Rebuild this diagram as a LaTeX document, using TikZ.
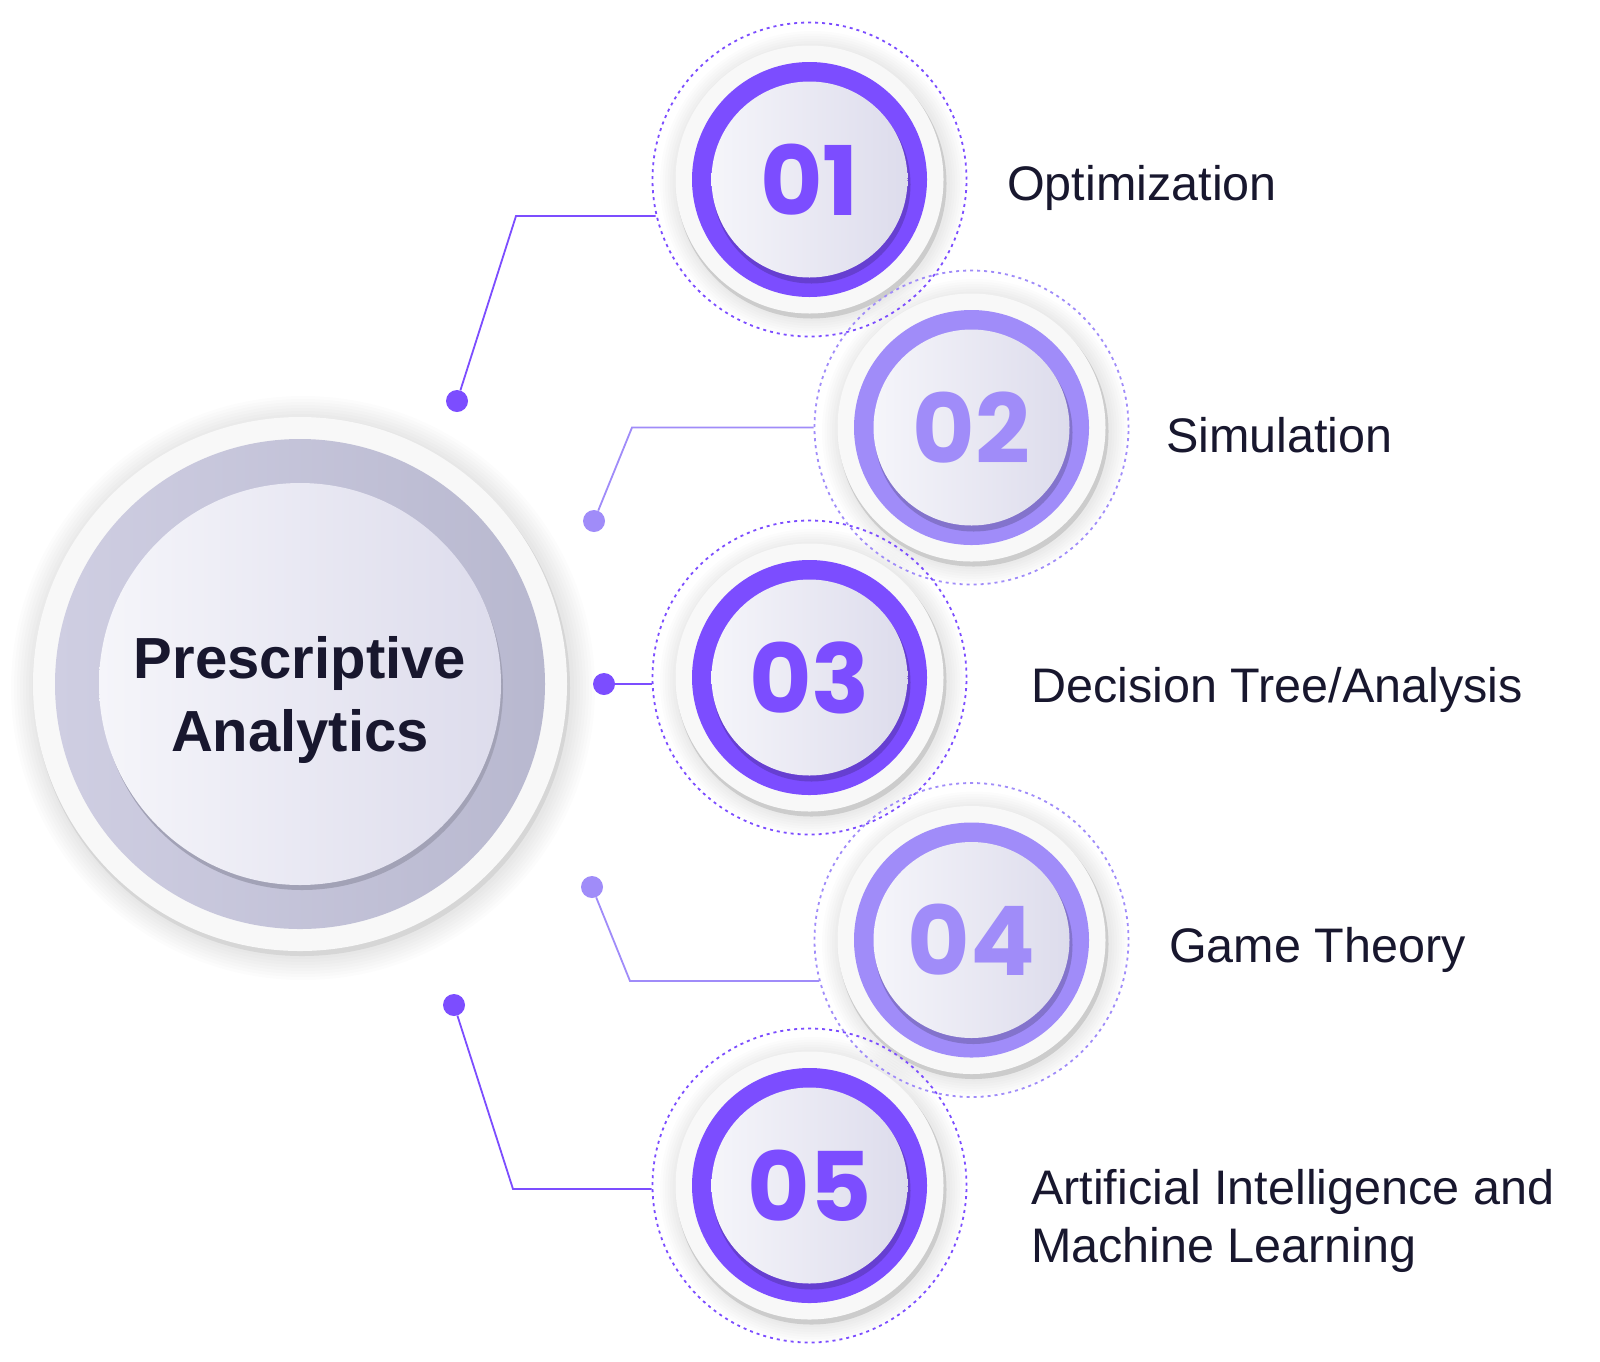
\documentclass[tikz,border=0pt]{standalone}
\usepackage{fontspec}
\setmainfont{Liberation Sans}
\newfontfamily\numfont{Poppins}
\usetikzlibrary{positioning,calc}
\definecolor{pvDeep}{RGB}{124,77,255}
\definecolor{pvSoft}{RGB}{160,140,249}
\definecolor{pvInk}{RGB}{24,23,46}
\definecolor{pvDiskL}{RGB}{245,245,250}
\definecolor{pvDiskR}{RGB}{221,220,236}
\definecolor{pvRingL}{RGB}{207,206,226}
\definecolor{pvRingR}{RGB}{184,184,207}
\definecolor{pvPaper}{RGB}{248,248,248}

\begin{document}
\begin{tikzpicture}[
    x=1pt, y=-1pt,
    every node/.style={text=pvInk},
    caption/.style={anchor=base west, inner sep=0pt, font=\fontsize{48.5}{58}\selectfont},
    orbit/.style={circle, draw=#1, line width=1.8pt, dash pattern=on 3pt off 4pt,
        minimum size=314pt, inner sep=0pt},
    wire/.style={draw=#1, line width=1.8pt},
    dotend/.style={circle, fill=#1, minimum size=22pt, inner sep=0pt},
    badge/.style={inner sep=0pt, text=#1, font=\numfont\bfseries\fontsize{96}{96}\selectfont}
]
\useasboundingbox (0,0) rectangle (1600,1361);
\fill[white] (0,0) rectangle (1600,1361);

% central hub
\foreach \k in {1,...,8}
    \fill[black, opacity=0.012] (303,688) circle ({268+3*\k});
\fill[black!16] (302,688) circle (268);
\fill[pvPaper] (300,684) circle (267);
\shade[left color=pvRingL, right color=pvRingR] (300,684) circle (245);
\fill[pvRingR!88!black] (302,689) circle (201);
\shade[left color=pvDiskL, right color=pvDiskR] (300,684) circle (201);
\node[align=center, font=\bfseries\fontsize{58}{73}\selectfont] (hub) at (300,700) {Prescriptive\\Analytics};

% numbered circles
\foreach \n/\cx/\cy/\tone in {1/809.5/179.5/pvDeep, 2/971.5/427.5/pvSoft, 3/809.5/677.5/pvDeep,
                              4/971.5/940/pvSoft, 5/809.5/1185.5/pvDeep}{
    \foreach \k in {1,...,7}
        \fill[black, opacity=0.012] (\cx+3,\cy+4) circle ({135+2.5*\k});
    \fill[black!20] (\cx+2,\cy+4) circle (135);
    \fill[pvPaper] (\cx,\cy) circle (134);
    \fill[\tone] (\cx,\cy) circle (117.5);
    \fill[\tone!82!black] (\cx+2,\cy+5) circle (99);
    \shade[left color=pvDiskL, right color=pvDiskR] (\cx,\cy) circle (98);
    \node[badge=\tone] (n\n) at (\cx,\cy) {0\n};
}
\foreach \n/\cx/\cy/\tone in {1/809.5/179.5/pvDeep, 2/971.5/427.5/pvSoft, 3/809.5/677.5/pvDeep,
                              4/971.5/940/pvSoft, 5/809.5/1185.5/pvDeep}
    \node[orbit=\tone] (c\n) at (\cx,\cy) {};

% connectors
\node[dotend=pvDeep] (d1) at (457,401) {};
\node[dotend=pvSoft] (d2) at (594,521) {};
\node[dotend=pvDeep] (d3) at (604,684) {};
\node[dotend=pvSoft] (d4) at (592,887) {};
\node[dotend=pvDeep] (d5) at (454,1005) {};
\coordinate (k1) at (516,216);
\coordinate (k2) at (632,427.5);
\coordinate (k4) at (630,981);
\coordinate (k5) at (513,1189);

\draw[wire=pvDeep] (d1) -- (k1) -- (k1 -| c1.193);
\draw[wire=pvSoft] (d2) -- (k2) -- (k2 -| c2.180);
\draw[wire=pvDeep] (d3) -- (d3 -| c3.182);
\draw[wire=pvSoft] (d4) -- (k4) -- (k4 -| c4.195);
\draw[wire=pvDeep] (d5) -- (k5) -- (k5 -| c5.181);

% labels
\node[caption] (t1) at (1007,200) {Optimization};
\node[caption] (t2) at (1166,452) {Simulation};
\node[caption] (t3) at (1031,702) {Decision Tree/Analysis};
\node[caption] (t4) at (1169,962) {Game Theory};
\node[caption, align=left] (t5) at (1031,1262) {Artificial Intelligence and\\Machine Learning};

\end{tikzpicture}
\end{document}
